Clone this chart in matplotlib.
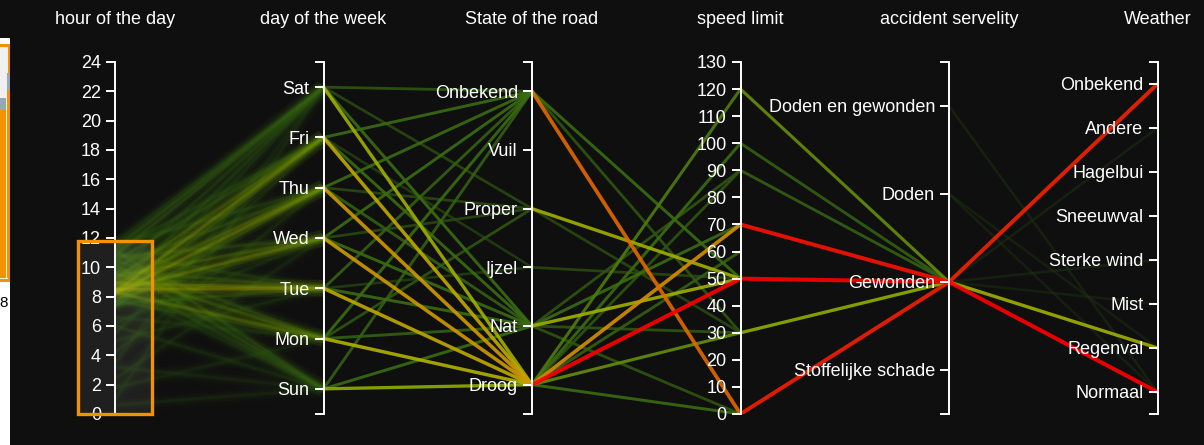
import matplotlib
matplotlib.use("Agg")
import matplotlib.pyplot as plt
from matplotlib.colors import LinearSegmentedColormap
from matplotlib.patches import Rectangle

plt.rcParams['font.family'] = ['Liberation Sans', 'DejaVu Sans']

W, H = 1204, 445
BG = '#0f0f0f'

# --- dimensions (categories listed bottom -> top) ---
titles = ["hour of the day", "day of the week", "State of the road",
          "speed limit", "accident servelity", "Weather"]
hour_range = (0, 24)
hour_ticks = list(range(0, 25, 2))
days = ["Sun", "Mon", "Tue", "Wed", "Thu", "Fri", "Sat"]
road_states = ["Droog", "Nat", "Ijzel", "Proper", "Vuil", "Onbekend"]
speed_range = (0, 130)
speed_ticks = list(range(0, 131, 10))
severities = ["Stoffelijke schade", "Gewonden", "Doden", "Doden en gewonden"]
weathers = ["Normaal", "Regenval", "Mist", "Sterke wind", "Sneeuwval",
            "Hagelbui", "Andere", "Onbekend"]

brush_hours = (0, 11.8)

# --- flows between neighbouring axes: (left value, right value, weight) ---
hour_day = [
    (10.8, "Sat", 2), (11.3, "Sat", 2), (9.6, "Sat", 1.5), (8.4, "Sat", 1.5),
    (11.7, "Sat", 1), (7.2, "Sat", 1), (3.5, "Sat", 0.8), (1.0, "Sat", 0.8),
    (8.3, "Fri", 3.5), (9.2, "Fri", 2.5), (10.4, "Fri", 2), (7.6, "Fri", 2),
    (11.1, "Fri", 1.5), (5.5, "Fri", 1),
    (8.2, "Thu", 3.5), (8.9, "Thu", 2.5), (10.1, "Thu", 2), (7.4, "Thu", 2),
    (11.5, "Thu", 1.5), (4.2, "Thu", 1),
    (8.4, "Wed", 3.5), (9.4, "Wed", 2.5), (10.7, "Wed", 2), (7.8, "Wed", 1.5),
    (6.2, "Wed", 1), (2.4, "Wed", 0.8),
    (8.5, "Tue", 4), (8.9, "Tue", 3), (9.8, "Tue", 2), (7.5, "Tue", 2),
    (10.9, "Tue", 1.5), (5.0, "Tue", 1),
    (8.3, "Mon", 3), (9.6, "Mon", 2.5), (10.5, "Mon", 2), (7.7, "Mon", 1.5),
    (6.6, "Mon", 1), (1.8, "Mon", 0.8),
    (10.2, "Sun", 2), (11.2, "Sun", 2), (9.3, "Sun", 1.5), (8.6, "Sun", 1),
    (3.2, "Sun", 0.8), (0.6, "Sun", 0.8), (6.0, "Sun", 1),
]
day_road = [
    ("Sat", "Droog", 5.5), ("Fri", "Droog", 6.5), ("Thu", "Droog", 7),
    ("Wed", "Droog", 7), ("Tue", "Droog", 6.5), ("Mon", "Droog", 6),
    ("Sun", "Droog", 5),
    ("Sat", "Onbekend", 2), ("Fri", "Onbekend", 3), ("Thu", "Onbekend", 3),
    ("Wed", "Onbekend", 3), ("Tue", "Onbekend", 2.5), ("Mon", "Onbekend", 3),
    ("Sun", "Onbekend", 2.5),
    ("Sat", "Nat", 3), ("Fri", "Nat", 3), ("Thu", "Nat", 2.5), ("Wed", "Nat", 3),
    ("Tue", "Nat", 3), ("Mon", "Nat", 2.5), ("Sun", "Nat", 3),
    ("Sat", "Proper", 1.5), ("Thu", "Proper", 1.5), ("Wed", "Proper", 1.5),
    ("Mon", "Proper", 2), ("Fri", "Ijzel", 1), ("Tue", "Ijzel", 1),
]
road_speed = [
    ("Onbekend", 0, 8), ("Onbekend", 50, 3), ("Onbekend", 30, 2),
    ("Proper", 50, 5.5), ("Proper", 30, 1.5), ("Ijzel", 50, 1.5),
    ("Nat", 50, 5.5), ("Nat", 70, 3), ("Nat", 90, 2), ("Nat", 30, 2), ("Nat", 0, 2),
    ("Droog", 120, 3.5), ("Droog", 100, 3), ("Droog", 90, 2), ("Droog", 70, 7.3),
    ("Droog", 60, 2.5), ("Droog", 50, 10), ("Droog", 30, 4), ("Droog", 0, 3),
]
speed_severity = [
    (120, "Gewonden", 4), (100, "Gewonden", 2.5), (90, "Gewonden", 2.5),
    (70, "Gewonden", 9.6), (50, "Gewonden", 10), (30, "Gewonden", 5),
    (0, "Gewonden", 9.3),
]
severity_weather = [
    ("Gewonden", "Onbekend", 9.2), ("Gewonden", "Regenval", 5.5),
    ("Gewonden", "Normaal", 10), ("Gewonden", "Andere", 0.6),
    ("Gewonden", "Sterke wind", 0.6), ("Gewonden", "Mist", 0.5),
    ("Doden en gewonden", "Normaal", 0.6), ("Doden", "Regenval", 0.5),
    ("Doden", "Normaal", 0.5),
]

dims = [
    {"cats": None, "lim": hour_range, "ticks": hour_ticks},
    {"cats": days},
    {"cats": road_states},
    {"cats": None, "lim": speed_range, "ticks": speed_ticks},
    {"cats": severities},
    {"cats": weathers},
]
flows = [hour_day, day_road, road_speed, speed_severity, severity_weather]

heat = LinearSegmentedColormap.from_list("heat", [
    (0.0, '#16240f'), (0.3, '#3a6c12'), (0.5, '#8fae00'), (0.62, '#b9b300'),
    (0.75, '#dc8a00'), (0.87, '#ec3a00'), (1.0, '#ff0000')])

fig = plt.figure(figsize=(W / 100, H / 100), dpi=100, facecolor=BG)
x0, x1, y_top, y_bot = 115, 1157.5, 62, 414
host = fig.add_axes([x0 / W, (H - y_bot) / H, (x1 - x0) / W, (y_bot - y_top) / H])
host.set_xlim(0, len(dims) - 1)
host.set_ylim(0, 1)
host.axis('off')

n = len(dims)
axes = []
for i, d in enumerate(dims):
    ax = host.twinx()
    for s in ['right', 'top', 'bottom']:
        ax.spines[s].set_visible(False)
    ax.spines['left'].set_position(('axes', i / (n - 1)))
    ax.spines['left'].set_color('white')
    ax.spines['left'].set_linewidth(1.4)
    ax.yaxis.set_ticks_position('left')
    ax.yaxis.set_label_position('left')
    if d["cats"] is None:
        ax.set_ylim(*d["lim"])
        ax.set_yticks(d["ticks"])
    else:
        k = len(d["cats"])
        ax.set_ylim(-0.5, k - 0.5)
        ax.set_yticks(range(k))
        ax.set_yticklabels(d["cats"])
        ax.set_yticks([-0.5, k - 0.5], minor=True)
    ax.tick_params(axis='y', which='both', colors='white', length=6.5, width=1.4,
                   labelsize=13, pad=3.6)
    ax.set_xticks([])
    axes.append(ax)
    xpx = x0 + (x1 - x0) * i / (n - 1)
    fig.text(xpx / W, 1 - 20 / H, titles[i], color='white', fontsize=13,
             ha='center', va='center')


def ypos(i, v):
    lo, hi = axes[i].get_ylim()
    cats = dims[i]["cats"]
    if cats is not None:
        v = cats.index(v)
    return (v - lo) / (hi - lo)


# soft, blurred fan between hour and day
for a, b, w in sorted(hour_day, key=lambda f: f[2]):
    ys = [ypos(0, a), ypos(1, b)]
    c = heat(min(w / 6.5, 1))
    for lw, al in [(12, 0.05), (7, 0.08), (4, 0.13), (2, 0.22)]:
        host.plot([0, 1], ys, color=c, lw=lw, alpha=al, solid_capstyle='butt')

segs = []
for i, fl in enumerate(flows[1:], start=1):
    for a, b, w in fl:
        segs.append((w, i, a, b))
for w, i, a, b in sorted(segs, key=lambda s: s[0]):
    c = heat(min(w / 10, 1))
    host.plot([i, i + 1], [ypos(i, a), ypos(i + 1, b)], color=c,
              lw=1.8 + 0.11 * w, alpha=0.9 if w >= 1 else 0.5,
              solid_capstyle='round', zorder=2 + w / 10)

# brush on the hour axis
bw = (x0 - 78) / ((x1 - x0) / (n - 1))
axes[0].add_patch(Rectangle((-bw, brush_hours[0]), 2 * bw, brush_hours[1] - brush_hours[0],
                            facecolor=(1, 1, 1, 0.07), edgecolor='#f39200', lw=2.4,
                            zorder=5, clip_on=False))

# cut-off neighbour panel on the left edge of the screenshot
strip = fig.add_axes([0, 0, 10 / W, 1])
strip.set_xlim(0, 10)
strip.set_ylim(H, 0)
strip.axis('off')
strip.add_patch(Rectangle((0, 38), 10, H - 38, facecolor='white', edgecolor='none'))
strip.add_patch(Rectangle((-3, 45), 12, 235, facecolor='#f0f0f0', edgecolor='#f39200', lw=2.2))
strip.add_patch(Rectangle((0, 98), 6, 12, facecolor='#9aa6b8', edgecolor='none'))
strip.add_patch(Rectangle((0, 110), 6, 168, facecolor='#f39200', edgecolor='none'))
strip.add_patch(Rectangle((7, 73), 3, 17, facecolor='#9aa6b8', edgecolor='none'))
strip.add_patch(Rectangle((7, 90), 3, 188, facecolor='#f39200', edgecolor='none'))
fig.text(4 / W, 1 - 303 / H, "8", color='black', fontsize=11, ha='center', va='center')

fig.savefig("out.png", dpi=100, facecolor=BG)
